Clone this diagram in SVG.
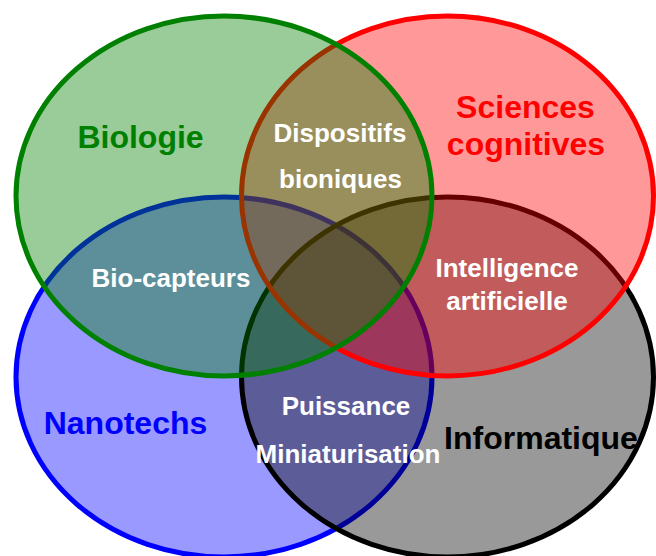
<svg xmlns="http://www.w3.org/2000/svg" width="656" height="556" viewBox="0 0 656 556">
<style>
.e{fill-opacity:0.4;stroke-width:5}
.lbl{font-family:"Liberation Sans",Arial,sans-serif;font-weight:bold;font-size:32px;text-anchor:middle}
.w{font-family:"Liberation Sans",Arial,sans-serif;font-weight:bold;font-size:26px;text-anchor:middle;fill:#ffffff}
</style>
<rect width="656" height="556" fill="#ffffff"/>
<g id="nanotechs">
<ellipse class="e" cx="224" cy="377" rx="208" ry="180" fill="#0000ff" stroke="#0000ff"/>
</g>
<g id="informatique">
<ellipse class="e" cx="447.5" cy="377" rx="206" ry="180" fill="#000000" stroke="#000000"/>
</g>
<g id="sciences-cognitives">
<ellipse class="e" cx="447.5" cy="196" rx="206" ry="180" fill="#ff0000" stroke="#ff0000"/>
</g>
<g id="biologie">
<ellipse class="e" cx="224" cy="196" rx="208" ry="180" fill="#008000" stroke="#008000"/>
</g>
<g id="labels">
<text class="lbl" x="140.5" y="148" fill="#008000">Biologie</text>
<text class="lbl" x="525.5" y="118" fill="#ff0000">Sciences</text>
<text class="lbl" x="526" y="155" fill="#ff0000">cognitives</text>
<text class="lbl" x="125.5" y="434" fill="#0000ff">Nanotechs</text>
<text class="lbl" x="541" y="449" fill="#000000">Informatique</text>
</g>
<g id="intersections">
<text class="w" x="340" y="142">Dispositifs</text>
<text class="w" x="340.5" y="188">bioniques</text>
<text class="w" x="171" y="287">Bio-capteurs</text>
<text class="w" x="507" y="277">Intelligence</text>
<text class="w" x="507" y="310">artificielle</text>
<text class="w" x="346" y="415">Puissance</text>
<text class="w" x="348" y="463">Miniaturisation</text>
</g>
</svg>
